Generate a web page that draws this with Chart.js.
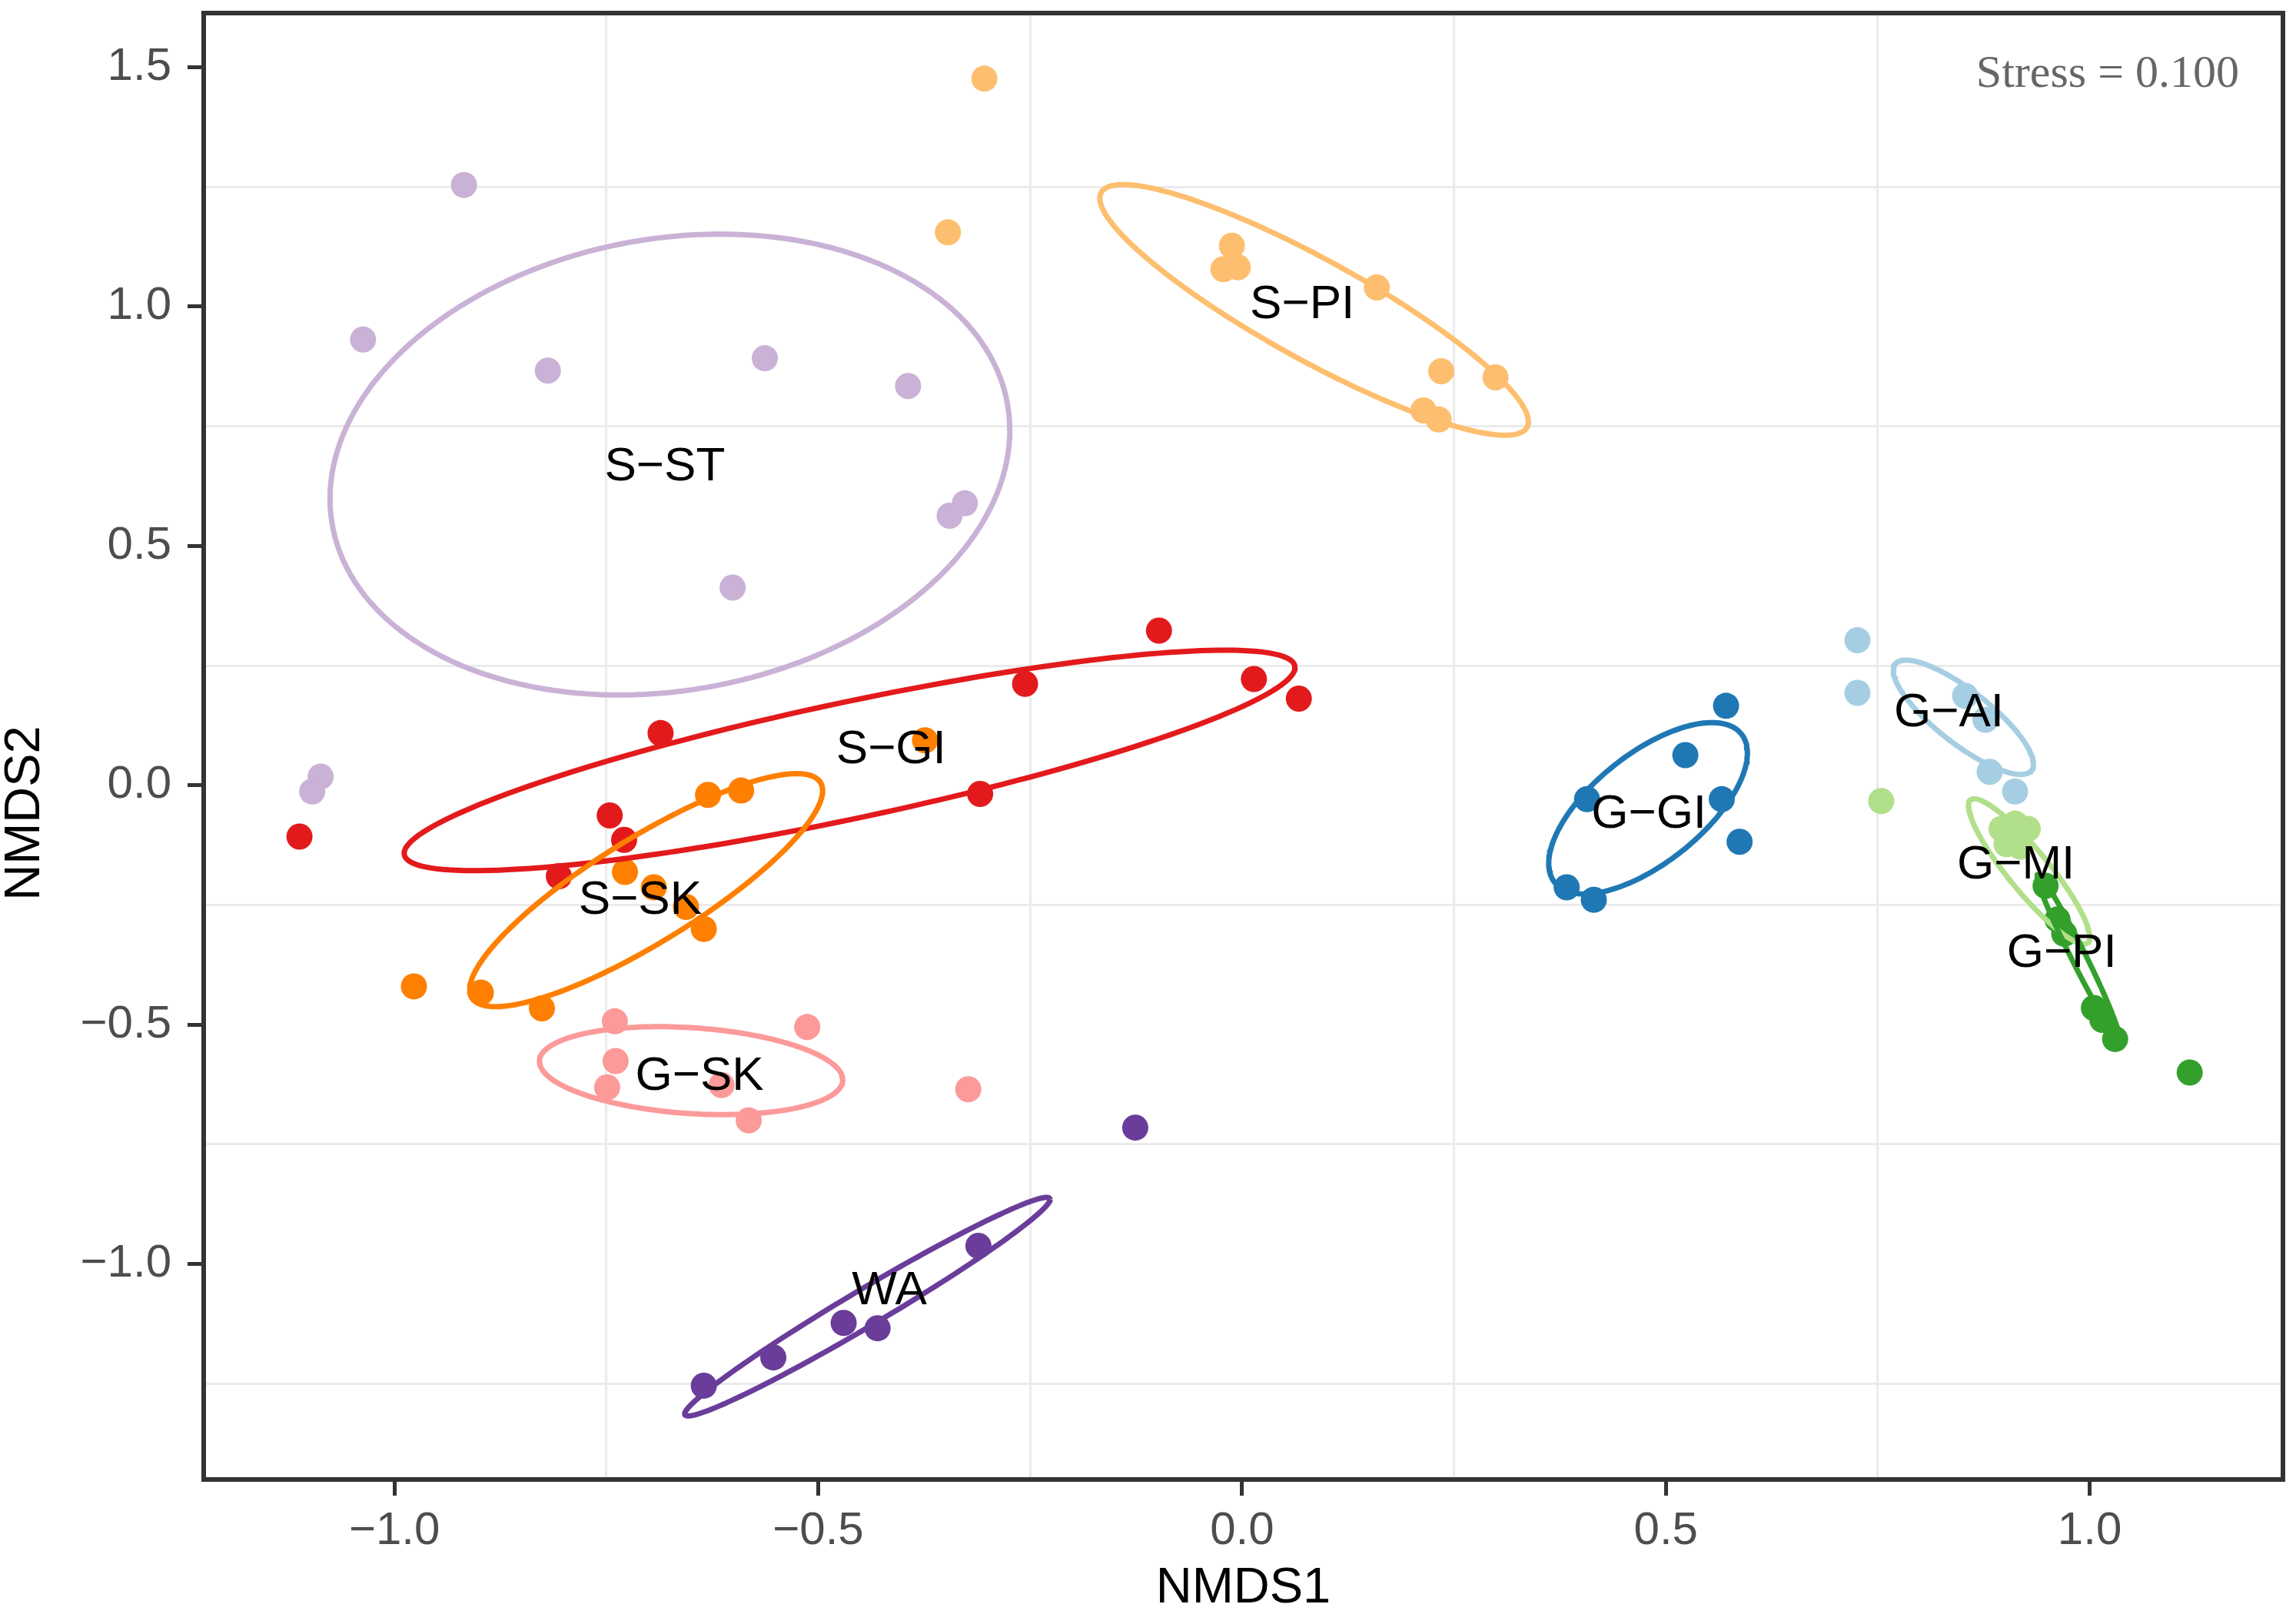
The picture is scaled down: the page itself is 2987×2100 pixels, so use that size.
<!DOCTYPE html>
<html>
<head>
<meta charset="utf-8">
<script src="https://cdn.jsdelivr.net/npm/chart.js@4.4.1/dist/chart.umd.min.js"></script>
<style>
  html, body { margin: 0; padding: 0; background: #fff; }
  #wrap { width: 2987px; height: 2100px; position: relative; }
</style>
</head>
<body>
<div id="wrap"><canvas id="nmds"></canvas></div>
<script>
const groups = ['G−AI', 'G−GI', 'G−MI', 'G−PI', 'G−SK', 'S−GI', 'S−PI', 'S−SK', 'S−ST', 'WA'];

// NMDS scores of the samples, per group
const xGAI = [0.726, 0.726, 0.853, 0.877, 0.882, 0.912];
const yGAI = [0.303, 0.193, 0.187, 0.137, 0.028, -0.013];
const xGGI = [0.571, 0.523, 0.407, 0.566, 0.587, 0.383, 0.415];
const yGGI = [0.166, 0.063, -0.029, -0.029, -0.118, -0.213, -0.239];
const xGMI = [0.754, 0.896, 0.912, 0.927, 0.902, 0.918];
const yGMI = [-0.033, -0.091, -0.080, -0.091, -0.123, -0.128];
const xGPI = [0.948, 0.962, 0.970, 1.005, 1.015, 1.030, 1.118];
const yGPI = [-0.210, -0.280, -0.310, -0.465, -0.490, -0.530, -0.600];
const xGSK = [-0.740, -0.513, -0.739, -0.749, -0.614, -0.582, -0.323];
const yGSK = [-0.493, -0.505, -0.576, -0.631, -0.626, -0.700, -0.635];
const xSGI = [-1.112, -0.806, -0.746, -0.729, -0.686, -0.309, -0.256, -0.098, 0.014, 0.067];
const ySGI = [-0.107, -0.190, -0.063, -0.114, 0.109, -0.018, 0.212, 0.323, 0.222, 0.181];
const xSPI = [-0.304, -0.347, -0.012, -0.022, -0.005, 0.159, 0.235, 0.299, 0.214, 0.232];
const ySPI = [1.476, 1.155, 1.127, 1.078, 1.082, 1.040, 0.865, 0.852, 0.783, 0.764];
const xSSK = [-0.630, -0.591, -0.977, -0.898, -0.826, -0.728, -0.694, -0.656, -0.635, -0.374];
const ySSK = [-0.020, -0.011, -0.420, -0.433, -0.466, -0.181, -0.213, -0.254, -0.300, 0.094];
const xSST = [-0.918, -1.037, -0.819, -0.563, -0.394, -0.327, -0.345, -0.601, -1.087, -1.097];
const ySST = [1.254, 0.931, 0.866, 0.892, 0.834, 0.589, 0.563, 0.413, 0.018, -0.013];
const xWA = [-0.635, -0.553, -0.470, -0.430, -0.311, -0.126];
const yWA = [-1.254, -1.195, -1.123, -1.134, -0.962, -0.715];

// confidence ellipses: centre, half width, y shift at the right end, half height at the centre
const ellCx = [0.851, 0.479, 0.9285, 0.986, -0.650, -0.463, 0.085, -0.703, -0.675, -0.442];
const ellCy = [0.142, -0.048, -0.180, -0.355, -0.596, 0.052, 0.993, -0.219, 0.670, -1.089];
const ellRx = [0.0827, 0.1172, 0.0715, 0.048, 0.1789, 0.5255, 0.2528, 0.2082, 0.401, 0.2155];
const ellDy = [-0.0978, 0.1152, -0.137, -0.165, -0.0193, 0.194, -0.2333, 0.2076, 0.0714, 0.224];
const ellVh = [0.0685, 0.137, 0.065, 0.033, 0.0898, 0.124, 0.1188, 0.127, 0.476, 0.044];

// group label positions
const labelX = [0.834, 0.480, 0.913, 0.967, -0.640, -0.414, 0.071, -0.710, -0.681, -0.416];
const labelY = [0.150, -0.061, -0.167, -0.351, -0.608, 0.074, 1.003, -0.241, 0.665, -1.057];

const xMajor = [-1, -0.5, 0, 0.5, 1];
const xMinor = [-0.75, -0.25, 0.25, 0.75];
const yMajor = [-1, -0.5, 0, 0.5, 1, 1.5];
const yMinor = [-1.25, -0.75, -0.25, 0.25, 0.75, 1.25];
const xLimits = [-1.225, 1.228];
const yLimits = [-1.45, 1.613];
const stressText = 'Stress = 0.100';

const palette = ['#a6cee3', '#1f78b4', '#b2df8a', '#33a02c', '#fb9a99',
                 '#e31a1c', '#fdbf6f', '#ff7f00', '#cab2d6', '#6a3d9a'];

const pointX = [xGAI, xGGI, xGMI, xGPI, xGSK, xSGI, xSPI, xSSK, xSST, xWA];
const pointY = [yGAI, yGGI, yGMI, yGPI, yGSK, ySGI, ySPI, ySSK, ySST, yWA];

function fmt(v) {
    return (v < 0 ? '−' : '') + Math.abs(v).toFixed(1);
}

function ellipsePath(i) {
    const pts = [];
    for (let k = 0; k <= 180; k++) {
        const t = 2 * Math.PI * k / 180;
        pts.push({
            x: ellCx[i] + ellRx[i] * Math.cos(t),
            y: ellCy[i] + ellDy[i] * Math.cos(t) + ellVh[i] * Math.sin(t)
        });
    }
    return pts;
}

const datasets = [];
groups.forEach(function (g, i) {
    datasets.push({
        label: g,
        data: pointX[i].map((v, j) => ({x: v, y: pointY[i][j]})),
        backgroundColor: palette[i],
        pointRadius: 17,
        pointHoverRadius: 17,
        pointBorderWidth: 0,
        order: 40 - i
    });
});
groups.forEach(function (g, i) {
    datasets.push({
        label: g + ' ellipse',
        data: ellipsePath(i),
        showLine: true,
        borderColor: palette[i],
        borderWidth: 7,
        borderJoinStyle: 'round',
        pointRadius: 0,
        fill: false,
        tension: 0,
        order: 20 - i
    });
});

function axisTicks(major, minor) {
    return function (scale) {
        scale.ticks = major.concat(minor).sort((a, b) => a - b).map(v => ({value: v}));
    };
}

function gridColor(major) {
    return ctx => (ctx.tick && major.includes(ctx.tick.value)) ? 'rgba(0,0,0,0)' : '#ebebeb';
}

function tickColor(major) {
    return ctx => (ctx.tick && major.includes(ctx.tick.value)) ? '#333333' : 'rgba(0,0,0,0)';
}

// stress value, group names, panel border and y title
const annotate = {
    id: 'annotate',
    afterDatasetsDraw(chart) {
        const {ctx, chartArea: a, scales: {x, y}} = chart;
        ctx.save();
        ctx.font = '62px "Liberation Sans"';
        ctx.fillStyle = '#000';
        ctx.textAlign = 'center';
        ctx.textBaseline = 'middle';
        groups.forEach(function (g, i) {
            ctx.fillText(g, x.getPixelForValue(labelX[i]), y.getPixelForValue(labelY[i]));
        });

        ctx.font = '60px "Liberation Serif"';
        ctx.fillStyle = '#666666';
        ctx.textAlign = 'right';
        ctx.textBaseline = 'alphabetic';
        ctx.fillText(stressText, a.right - 57, a.top + 96);

        ctx.strokeStyle = '#333333';
        ctx.lineWidth = 6;
        ctx.strokeRect(a.left, a.top, a.right - a.left, a.bottom - a.top);

        ctx.translate(33, 1058);
        ctx.rotate(-Math.PI / 2);
        ctx.font = '65px "Liberation Sans"';
        ctx.fillStyle = '#000';
        ctx.textAlign = 'center';
        ctx.textBaseline = 'middle';
        ctx.fillText('NMDS2', 0, 0);
        ctx.restore();
    }
};

Chart.defaults.font.family = '"Liberation Sans", Arial, sans-serif';

new Chart(document.getElementById('nmds'), {
    type: 'scatter',
    data: {datasets: datasets},
    plugins: [annotate],
    options: {
        responsive: true,
        maintainAspectRatio: false,
        devicePixelRatio: 1,
        animation: false,
        layout: {padding: {left: 0, top: 14, right: 8, bottom: 0}},
        plugins: {
            legend: {display: false},
            tooltip: {enabled: false}
        },
        scales: {
            x: {
                type: 'linear',
                min: xLimits[0],
                max: xLimits[1],
                afterBuildTicks: axisTicks(xMajor, xMinor),
                afterFit(scale) {
                    scale.height = 175;
                    scale.paddingLeft = 0;
                    scale.paddingRight = 0;
                },
                border: {display: false},
                grid: {
                    color: gridColor(xMajor),
                    lineWidth: 3,
                    drawTicks: true,
                    tickLength: 21,
                    tickWidth: 5,
                    tickColor: tickColor(xMajor)
                },
                ticks: {
                    autoSkip: false,
                    maxRotation: 0,
                    padding: 10,
                    color: '#4d4d4d',
                    font: {size: 60},
                    callback: v => xMajor.includes(v) ? fmt(v) : ''
                },
                title: {
                    display: true,
                    text: 'NMDS1',
                    color: '#000',
                    font: {size: 65, lineHeight: 1},
                    padding: {top: 0, bottom: 0}
                }
            },
            y: {
                type: 'linear',
                min: yLimits[0],
                max: yLimits[1],
                afterBuildTicks: axisTicks(yMajor, yMinor),
                afterFit(scale) {
                    scale.width = 265;
                    scale.paddingTop = 0;
                    scale.paddingBottom = 0;
                },
                border: {display: false},
                grid: {
                    color: gridColor(yMajor),
                    lineWidth: 3,
                    drawTicks: true,
                    tickLength: 21,
                    tickWidth: 5,
                    tickColor: tickColor(yMajor)
                },
                ticks: {
                    autoSkip: false,
                    padding: 21,
                    color: '#4d4d4d',
                    font: {size: 60},
                    callback: v => yMajor.includes(v) ? fmt(v) : ''
                }
            }
        }
    }
});
</script>
</body>
</html>
